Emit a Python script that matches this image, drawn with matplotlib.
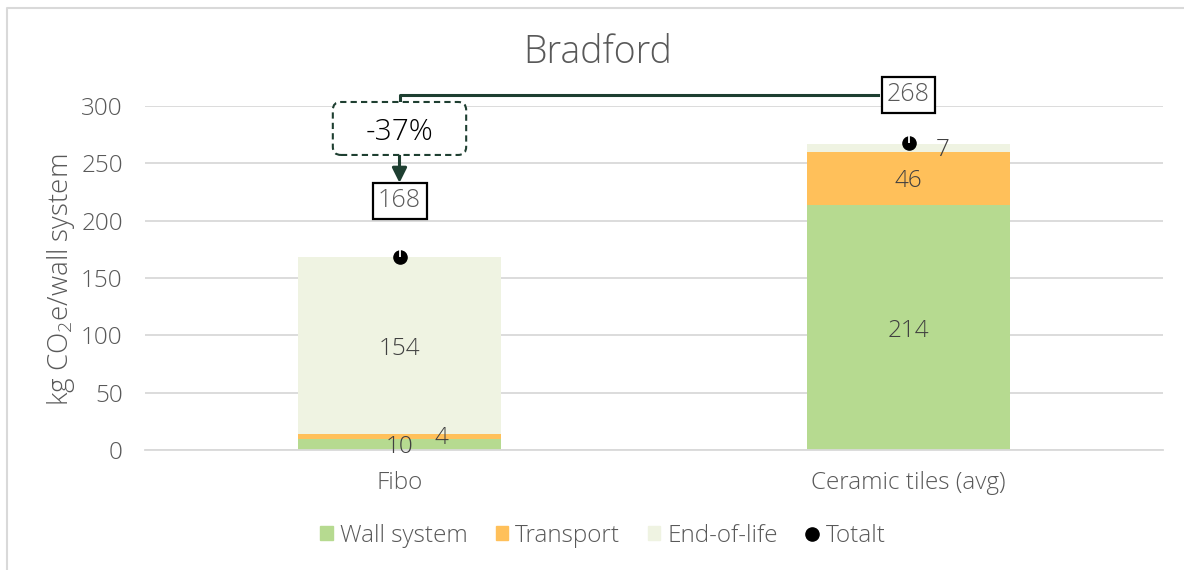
import matplotlib.pyplot as plt
from matplotlib.lines import Line2D
from matplotlib.patches import Patch, FancyBboxPatch
from matplotlib.path import Path

plt.rcParams['font.family'] = ['Open Sans', 'DejaVu Sans']
plt.rcParams['font.weight'] = 'light'

# --- data ---
categories = ['Fibo', 'Ceramic tiles (avg)']
wall_system = [10, 214]
transport = [4, 46]
end_of_life = [154, 7]
totals = [168, 268]
change_label = '-37%'

c_wall = '#B6DA90'
c_trans = '#FFC05A'
c_eol = '#EFF3E2'
c_line = '#1E3F31'
c_text = '#595959'

W, H = 1184, 570
fig = plt.figure(figsize=(W / 100, H / 100), dpi=100)
ax = fig.add_axes([145 / W, 1 - 450 / H, 1018 / W, 344 / H])

x = range(len(categories))
w = 0.4
ax.bar(x, wall_system, w, color=c_wall, zorder=2)
ax.bar(x, transport, w, bottom=wall_system, color=c_trans, zorder=2)
bottom3 = [a + b for a, b in zip(wall_system, transport)]
ax.bar(x, end_of_life, w, bottom=bottom3, color=c_eol, zorder=2)
ax.scatter(x, totals, s=90, color='black', zorder=4)
# little white tick on the total markers
tick = Path([(0, 0), (0, 1)])
ax.plot(x, totals, ls='', marker=tick, markersize=12, markeredgecolor='white',
        markeredgewidth=1.3, zorder=5)

# segment labels (small downward nudge: Open Sans sits high when centred)
dy = -2.8
lab_kw = dict(ha='center', va='center', fontsize=17.5, color='#404040', zorder=6)
ax.text(0, wall_system[0] / 2 + dy, str(wall_system[0]), **lab_kw)
ax.text(0.083, wall_system[0] + transport[0] / 2 + 1 + dy, str(transport[0]), **lab_kw)
ax.text(0, bottom3[0] + end_of_life[0] / 2 + dy, str(end_of_life[0]), **lab_kw)
ax.text(1, wall_system[1] / 2 + dy, str(wall_system[1]), **lab_kw)
ax.text(1, wall_system[1] + transport[1] / 2 + dy, str(transport[1]), **lab_kw)
ax.text(1.067, bottom3[1] + end_of_life[1] / 2 + 1 + dy, str(end_of_life[1]), **lab_kw)

# axes styling
ax.set_xlim(-0.5, 1.5)
ax.set_ylim(0, 300)
ax.set_yticks(range(0, 301, 50))
ax.set_xticks(list(x))
ax.set_xticklabels(categories)
ax.grid(axis='y', color='#D9D9D9', linewidth=1.3, zorder=0)
ax.set_axisbelow(True)
for s in ['top', 'right', 'left']:
    ax.spines[s].set_visible(False)
ax.spines['bottom'].set_color('#D9D9D9')
ax.spines['bottom'].set_linewidth(1.3)
ax.tick_params(axis='both', length=0, labelsize=17.5, colors=c_text)
ax.tick_params(axis='y', pad=16)
ax.tick_params(axis='x', pad=15)
fig.text(61 / W, 1 - 280 / H, 'kg CO$_\\mathregular{2}$e/wall system', rotation=90,
         ha='center', va='center', fontsize=20, color=c_text)
fig.text(598 / W, 1 - 53 / H, 'Bradford', ha='center', va='center',
         fontsize=27, color=c_text)

# change annotation
y_top = 309.6
ax.plot([0, 0, 0.94], [303.5, y_top, y_top], color=c_line, lw=2.2,
        clip_on=False, zorder=3)
ax.annotate('', xy=(0, 233), xytext=(0, 257.3), annotation_clip=False,
            arrowprops=dict(arrowstyle='-|>', color=c_line, lw=2.2,
                            mutation_scale=22, shrinkA=0, shrinkB=0))
box_kw = dict(ha='center', va='center', fontsize=18, color=c_text,
              clip_on=False, zorder=7)
ax.text(1, 310, str(totals[1]), **box_kw,
        bbox=dict(boxstyle='square,pad=0.22', fc='white', ec='black', lw=1.6))
ax.text(0, 217.5, str(totals[0]), **box_kw,
        bbox=dict(boxstyle='square,pad=0.22', fc='white', ec='black', lw=1.6))

# dashed rounded box for the change (pixel sizes converted to data units)
px_x = 509.0
px_y = 344 / 300
dbox = FancyBboxPatch((-0.131, 257.3), 0.262, 46.2,
                      boxstyle='round,pad=0,rounding_size=0.016',
                      mutation_aspect=px_x / px_y, fc='white', ec=c_line,
                      lw=1.5, ls=(0, (3, 2)), clip_on=False, zorder=6)
ax.add_patch(dbox)
ax.text(0, 277.5, change_label, ha='center', va='center', fontsize=21.5,
        color='black', clip_on=False, zorder=7)

# legend
handles = [Patch(color=c_wall), Patch(color=c_trans), Patch(color=c_eol),
           Line2D([], [], marker='o', color='black', ls='', markersize=9.5)]
labels = ['Wall system', 'Transport', 'End-of-life', 'Totalt']
fig.legend(handles, labels, loc='center', bbox_to_anchor=(603 / W, 1 - 536 / H),
           ncol=4, frameon=False, fontsize=17.5, handlelength=0.5,
           handleheight=0.5, handletextpad=0.3, columnspacing=1.15,
           labelcolor=c_text)

# outer chart frame (left and top edges)
fig.add_artist(Line2D([7 / W, 7 / W, 1], [0, 1 - 8 / H, 1 - 8 / H],
                      color='#D9D9D9', lw=1.5, transform=fig.transFigure))

fig.savefig('out.png', dpi=100)
